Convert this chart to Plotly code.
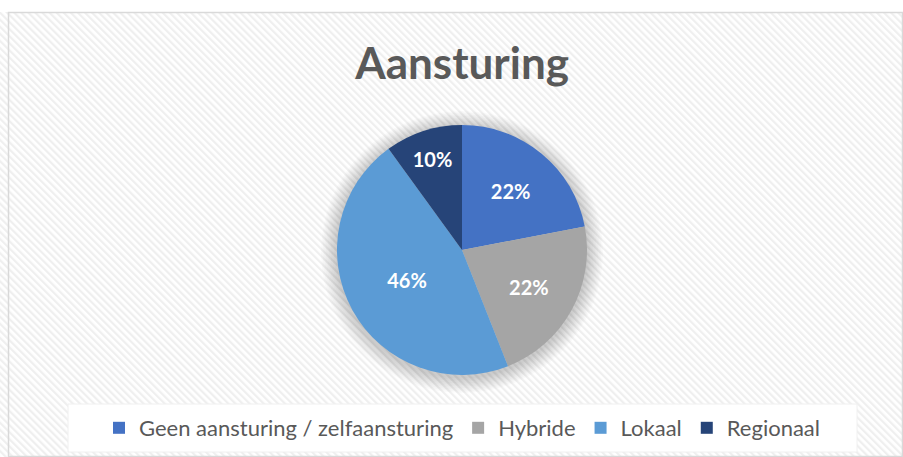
import base64
import plotly.graph_objects as go

labels = ["Geen aansturing / zelfaansturing", "Hybride", "Lokaal", "Regionaal"]
values = [22, 22, 46, 10]
colors = ["#4472C4", "#A5A5A5", "#5B9BD5", "#264478"]
title_text = "Aansturing"

W, H = 903, 457
FONT = "Lato, 'Open Sans', sans-serif"

# hatch background as svg image
svg = f"""<svg xmlns='http://www.w3.org/2000/svg' width='{W}' height='{H}'>
<defs><pattern id='p' width='5' height='5' patternUnits='userSpaceOnUse' patternTransform='rotate(-45)'>
<rect width='5' height='5' fill='#ffffff'/><rect width='2.2' height='5' fill='#efefef'/></pattern></defs>
<rect width='{W}' height='{H}' fill='url(#p)'/></svg>"""
bg_src = "data:image/svg+xml;base64," + base64.b64encode(svg.encode()).decode()

def px(x):
    return x / W

def py(y):
    return 1 - y / H

cx, cy, R = 462, 250, 125

fig = go.Figure()
fig.add_trace(go.Pie(
    labels=labels, values=values, sort=False, direction="clockwise", rotation=0,
    marker=dict(colors=colors, line=dict(width=0)),
    texttemplate="%{percent:.0%}", textinfo="percent", textposition="inside",
    insidetextorientation="horizontal",
    textfont=dict(family=FONT, size=20, color="white", weight="bold"),
    hoverinfo="label+percent",
    domain=dict(x=[px(cx - R), px(cx + R)], y=[py(cy + R), py(cy - R)]),
))

shapes = []
shapes.append(dict(type="rect", xref="paper", yref="paper", x0=0, x1=1, y0=py(12), y1=1,
                   fillcolor="white", line=dict(width=0), layer="below"))
shapes.append(dict(type="rect", xref="paper", yref="paper", x0=px(8.5), x1=px(902.5), y0=py(456.5), y1=py(12.5),
                   fillcolor="rgba(0,0,0,0)", line=dict(color="#d9d9d9", width=1.5), layer="below"))
for i in range(10):
    r = R + 16 - i * 1.6
    shapes.append(dict(type="circle", xref="paper", yref="paper",
                       x0=px(cx - r), x1=px(cx + r), y0=py(cy + r + 2), y1=py(cy - r + 2),
                       fillcolor="rgba(0,0,0,0.018)", line=dict(width=0), layer="below"))
shapes.append(dict(type="rect", xref="paper", yref="paper", x0=px(68), x1=px(857), y0=py(452), y1=py(404),
                   fillcolor="white", line=dict(color="#f0f0f0", width=1), layer="below"))

fig.update_layout(
    width=W, height=H, margin=dict(l=0, r=0, t=0, b=0),
    paper_bgcolor="white", plot_bgcolor="white",
    images=[dict(source=bg_src, xref="paper", yref="paper", x=0, y=1, sizex=1, sizey=1,
                 sizing="stretch", xanchor="left", yanchor="top", layer="below")],
    shapes=shapes,
    title=dict(text=title_text, x=0.5117, xanchor="center", y=py(64), yanchor="middle",
               font=dict(family=FONT, size=44, color="#595959", weight="bold")),
    showlegend=True,
    legend=dict(orientation="h", x=px(462), xanchor="center", y=py(428), yanchor="middle",
                bgcolor="rgba(0,0,0,0)", font=dict(family=FONT, size=22, color="#595959"),
                itemclick=False, itemdoubleclick=False, traceorder="normal"),
)

fig.write_html("out.html", config={"displayModeBar": False},
               post_script="document.body.style.margin='0';document.body.style.overflow='hidden';")
